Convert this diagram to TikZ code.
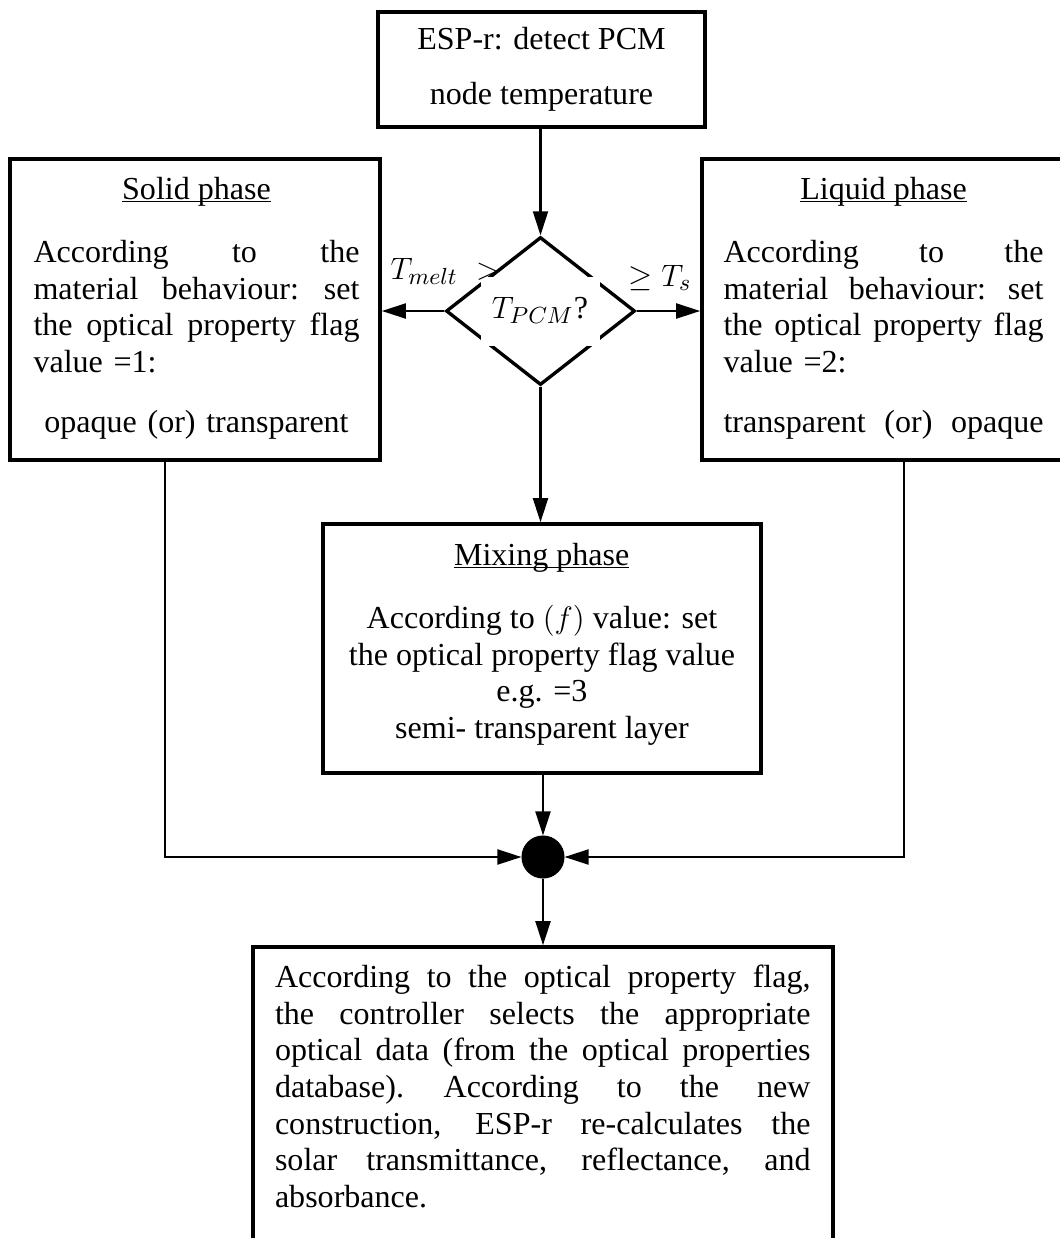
\documentclass[tikz,border=0pt]{standalone}
\usepackage{fontspec}
\setmainfont{Liberation Serif}
\usetikzlibrary{arrows.meta,shapes.geometric}

% drawing unit: one grid step
\newlength\pxu
\setlength\pxu{0.387pt}
% a line of text whose word spaces stretch to the full text width
\newcommand\jline[1]{\leavevmode\hbox to \hsize{\spaceskip=0.25em plus 1fil\xspaceskip=0.3em plus 1fil\relax #1}}
% underline sitting close to the baseline
\newcommand\phaseul[1]{\setbox0\hbox{#1}\rlap{\rule[-1.3pt]{\wd0}{0.6pt}}\box0}

\begin{document}
\begin{tikzpicture}[x=0.387pt, y=-0.387pt,
  font=\fontsize{12.4}{14.2}\selectfont,
  txt/.style={inner sep=0pt},
  procbox/.style={draw, line width=1.4pt, inner sep=0pt},
  decision/.style={diamond, draw, line width=1.3pt, inner sep=0pt},
  wh/.style 2 args={minimum width=#1*\pxu, minimum height=#2*\pxu},
  gapframe/.style={draw=white, line width=3.9pt, inner sep=0pt},
  textblock/.style={txt, anchor=north west, align=left},
  conn/.style={line width=0.8pt, -{Triangle[length=9.3pt,width=5.8pt]}}]

\fill[white] (0,0) rectangle (1060,1238);
\useasboundingbox (0,0) rectangle (1060,1238);

% start: temperature detection
\node[procbox, wh={327}{115}] (detect) at (541.5,69.5) {};
\node[txt, anchor=north, align=center] (detecttxt) at (541.5,23.3)
  {\strut ESP-r: detect PCM\\[7.1pt]node temperature};

% decision on the PCM temperature
\node[decision, wh={189}{148}] (decision) at (540.5,311) {};
\node[gapframe, wh={109}{59}] (qframe) at (540.5,311.75) {};
\node[txt, anchor=base] (qtxt) at (540,318) {$T_{PCM}$?};
\node[txt, anchor=base west] (meltlbl) at (390,279) {$T_{melt}$\hspace{7pt}$>$};
\node[txt, anchor=base west] (geqlbl) at (628,286) {$\geq T_s$};

% solid phase
\node[procbox, wh={370}{301}] (solid) at (195,309.5) {};
\node[txt, anchor=base] (solidttl) at (196.5,199) {\phaseul{Solid phase}};
\node[textblock, text width=126.16pt] (solidtxt) at (33,236.3)
  {\strut\jline{According to the}\\
   \jline{material behaviour: set}\\
   \jline{the optical property flag}\\
   value =1:\\[9pt]
   \makebox[\hsize]{opaque (or) transparent}};

% liquid phase
\node[procbox, wh={372}{301}] (liquid) at (888,309.5) {};
\node[txt, anchor=base] (liquidttl) at (883.5,199) {\phaseul{Liquid phase}};
\node[textblock, text width=123.84pt] (liquidtxt) at (723,236.3)
  {\strut\jline{According to the}\\
   \jline{material behaviour: set}\\
   \jline{the optical property flag}\\
   value =2:\\[9pt]
   \jline{transparent (or) opaque}};

% mixing phase
\node[procbox, wh={438}{249}] (mixing) at (542,648.5) {};
\node[txt, anchor=base] (mixingttl) at (541.7,565) {\phaseul{Mixing phase}};
\node[txt, anchor=north, align=center] (mixingtxt) at (542,602.3)
  {\strut According to $(f)$ value: set\\
   the optical property flag value\\
   e.g. =3\\
   semi- transparent layer};

% junction
\node[circle, draw, fill=black, inner sep=0pt, minimum size=42*\pxu] (junc) at (543,857) {};

% outcome
\node[procbox, wh={580}{303}] (outcome) at (543,1098.5) {};
\node[textblock, text width=207.24pt] (outcometxt) at (274.5,961.3)
  {\strut\jline{According to the optical property flag,}\\
   \jline{the controller selects the appropriate}\\
   \jline{optical data (from the optical properties}\\
   \jline{database). According to the new}\\
   \jline{construction, ESP-r re-calculates the}\\
   \jline{solar transmittance, reflectance, and}\\
   absorbance.};

% connectors
\draw[conn] (decision.north |- detect.south) -- (decision.north);
\draw[conn] (decision.west) -- (decision.west -| solid.east);
\draw[conn] (decision.east) -- (decision.east -| liquid.west);
\draw[conn] (decision.south) -- (decision.south |- mixing.north);
\path (solid.south) ++(-30,0) coordinate (soliddrop);
\path (liquid.south) ++(16,0) coordinate (liquiddrop);
\draw[conn] (soliddrop) |- (junc.west);
\draw[conn] (liquiddrop) |- (junc.east);
\draw[conn] (junc.north |- mixing.south) -- (junc.north);
\draw[conn] (junc.south) -- (junc.south |- outcome.north);
\end{tikzpicture}
\end{document}
